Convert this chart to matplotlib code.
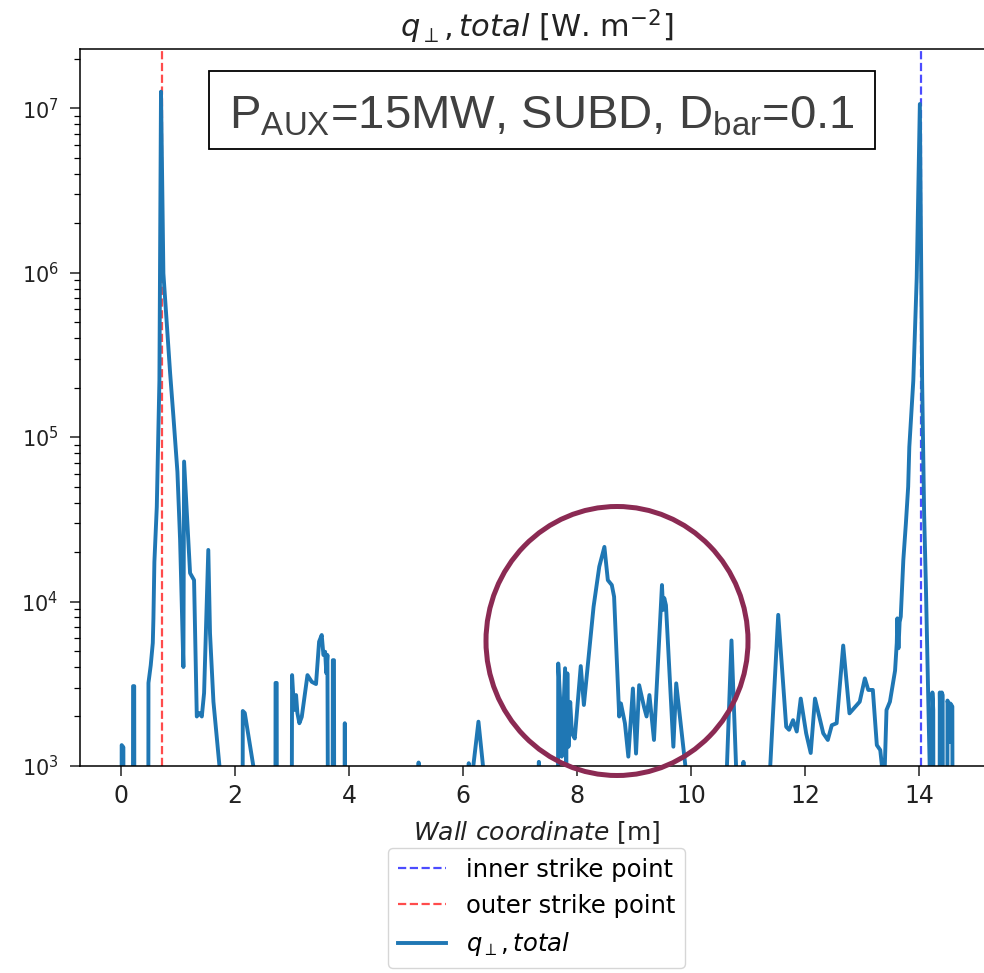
import matplotlib
matplotlib.use("Agg")
import matplotlib.pyplot as plt
from matplotlib import patches

plt.rcParams["mathtext.fontset"] = "dejavusans"
plt.rcParams["mathtext.rm"] = "Liberation Sans"

LOW = 1.0  # values below the plotted range (drawn off the bottom of the log axis)

# wall coordinate [m] and perpendicular heat flux [W/m2]
wall_x = [
    0.00, 0.01, 0.04, 0.05, 0.20, 0.21, 0.23, 0.24, 0.47, 0.48,
    0.52, 0.556, 0.567, 0.584, 0.626, 0.672, 0.70, 0.742, 0.86, 0.918,
    0.988, 1.035, 1.093, 1.105, 1.163, 1.21, 1.28, 1.328, 1.37, 1.416,
    1.456, 1.53, 1.56, 1.62, 1.68, 1.78, 1.80, 2.12, 2.135, 2.17,
    2.36, 2.37, 2.70, 2.71, 2.73, 2.74, 2.975, 3.00, 3.035, 3.07,
    3.093, 3.128, 3.17, 3.27, 3.345, 3.42, 3.474, 3.52, 3.55, 3.58,
    3.60, 3.62, 3.655, 3.70, 3.715, 3.735, 3.75, 3.91, 3.925, 3.94,
    5.20, 5.22, 5.24, 6.08, 6.10, 6.12, 6.17, 6.18, 6.27, 6.35,
    6.36, 7.31, 7.33, 7.35, 7.65, 7.67, 7.71, 7.73, 7.79, 7.81,
    7.83, 7.85, 7.88, 7.91, 7.96, 8.065, 8.12, 8.29, 8.39, 8.48,
    8.54, 8.61, 8.65, 8.74, 8.77, 8.84, 8.90, 8.98, 9.035, 9.09,
    9.175, 9.22, 9.27, 9.35, 9.49, 9.51, 9.53, 9.56, 9.69, 9.74,
    10.00, 10.01, 10.62, 10.63, 10.71, 10.79, 10.80, 10.90, 10.92, 10.94,
    11.38, 11.39, 11.53, 11.67, 11.72, 11.79, 11.855, 11.925, 12.02, 12.10,
    12.175, 12.32, 12.40, 12.47, 12.555, 12.67, 12.78, 12.96, 13.05, 13.11,
    13.19, 13.26, 13.32, 13.35, 13.375, 13.40, 13.43, 13.49, 13.58, 13.61,
    13.62, 13.64, 13.66, 13.68, 13.725, 13.77, 13.81, 13.83, 13.90, 13.96,
    14.015, 14.04, 14.055, 14.09, 14.12, 14.19, 14.20, 14.22, 14.235, 14.25,
    14.265, 14.35, 14.365, 14.38, 14.40, 14.415, 14.43, 14.49, 14.50, 14.52,
    14.535, 14.55, 14.585, 14.60,
]
q_total = [
    LOW, 1.34e3, 1.30e3, LOW, LOW, 3.06e3, 3.06e3, LOW, LOW, 3.2e3,
    4.1e3, 5.6e3, 7.9e3, 1.74e4, 3.76e4, 2.2e5, 1.26e7, 9.9e5, 2.45e5, 1.33e5,
    6.15e4, 2.37e4, 4.0e3, 7.1e4, 3.0e4, 1.49e4, 1.35e4, 2.0e3, 2.1e3, 2.0e3,
    2.78e3, 2.06e4, 6.4e3, 2.46e3, 1.48e3, 6.3e2, LOW, LOW, 2.16e3, 2.1e3,
    8.2e2, LOW, LOW, 3.2e3, 3.2e3, LOW, LOW, 3.57e3, 2.19e3, 2.7e3,
    2.1e3, 1.82e3, 1.99e3, 3.57e3, 3.25e3, 3.15e3, 5.7e3, 6.26e3, 4.73e3, 4.95e3,
    3.67e3, 4.73e3, LOW, LOW, 4.4e3, 4.4e3, LOW, LOW, 1.82e3, LOW,
    LOW, 1.05e3, LOW, LOW, 1.04e3, LOW, LOW, 1.0e3, 1.86e3, 1.0e3,
    LOW, LOW, 1.06e3, LOW, LOW, 4.2e3, 2.29e3, 1.14e3, 3.93e3, 1.04e3,
    3.66e3, 1.31e3, 2.45e3, 1.58e3, 1.47e3, 4.05e3, 2.35e3, 9.3e3, 1.63e4, 2.15e4,
    1.35e4, 1.26e4, 1.07e4, 2.0e3, 2.4e3, 1.82e3, 1.14e3, 2.96e3, 1.19e3, 3.1e3,
    2.29e3, 2.0e3, 2.7e3, 1.44e3, 1.26e4, 8.9e3, 1.05e4, 9.5e3, 1.31e3, 3.18e3,
    4.9e2, LOW, LOW, 1.0e3, 5.8e3, 1.0e3, LOW, LOW, 1.06e3, LOW,
    LOW, 1.0e3, 8.3e3, 1.73e3, 1.66e3, 1.9e3, 1.62e3, 2.57e3, 1.58e3, 1.2e3,
    2.57e3, 1.58e3, 1.44e3, 1.77e3, 1.82e3, 5.4e3, 2.09e3, 2.46e3, 3.41e3, 2.9e3,
    2.9e3, 1.34e3, 1.25e3, 1.0e3, LOW, 1.0e3, 2.19e3, 2.46e3, 3.8e3, 5.6e3,
    7.9e3, 5.2e3, 7.5e3, 8.1e3, 1.79e4, 2.99e4, 4.99e4, 8.7e4, 2.2e5, 9.3e5,
    1.06e7, 1.0e6, 2.2e5, 3.4e4, 1.29e4, 9.0e2, LOW, LOW, 2.8e3, 2.2e3,
    LOW, LOW, 2.8e3, 1.3e3, 2.8e3, 2.7e3, LOW, LOW, 2.5e3, 2.3e3,
    1.4e3, 2.4e3, 2.3e3, LOW,
]

inner_strike = 14.035
outer_strike = 0.72

W, H = 984, 973
fig = plt.figure(figsize=(W / 100, H / 100), dpi=100)
ax = fig.add_axes([79.5 / W, 207 / H, (994.8 - 79.5) / W, 717 / H])

ax.axvline(inner_strike, color="blue", ls="--", lw=1.6, alpha=0.7, label="inner strike point")
ax.axvline(outer_strike, color="red", ls="--", lw=1.6, alpha=0.7, label="outer strike point")
ax.plot(wall_x, q_total, color="#1f77b4", lw=2.8, label=r"$q_\perp, total$")

ax.set_yscale("log")
ax.set_ylim(1e3, 2.29e7)
ax.set_xlim(-0.73, 15.33)
ax.set_xticks(range(0, 15, 2))

ax.tick_params(axis="both", colors="#222222")
ax.tick_params(axis="x", labelsize=17, length=7, width=1.1, pad=6)
ax.tick_params(axis="y", which="major", labelsize=15, length=7, width=1.1, pad=8)
ax.tick_params(axis="y", which="minor", length=4, width=0.9)
for sp in ax.spines.values():
    sp.set_linewidth(1.1)

ax.set_title(r"$q_\perp, total$ [W. m$^{-2}$]", fontsize=22, pad=8, color="#222222")
ax.set_xlabel(r"$Wall\ coordinate$ [m]", fontsize=18, labelpad=8, color="#222222")

ax.legend(loc="upper center", bbox_to_anchor=(536.5 / W, 125 / H),
          bbox_transform=fig.transFigure, borderaxespad=0, fontsize=17.5)

# annotation box
box = patches.Rectangle((209 / W, 1 - 149 / H), 666 / W, 78 / H, transform=fig.transFigure,
                        facecolor="white", edgecolor="black", lw=1.3)
fig.add_artist(box)
fig.text(542 / W, 1 - 128.3 / H, r"$\mathrm{P_{AUX}}$=15MW, SUBD, $\mathrm{D_{bar}}$=0.1",
         ha="center", va="baseline", fontsize=34, family="Liberation Sans",
         math_fontfamily="custom", color="#404040")

# highlight circle
ring = patches.Ellipse((617 / W, 1 - 641 / H), 262 / W, 269 / H, transform=fig.transFigure,
                       fill=False, edgecolor="#8b2a53", lw=3.6)
fig.add_artist(ring)

fig.savefig("out.png", dpi=100)
